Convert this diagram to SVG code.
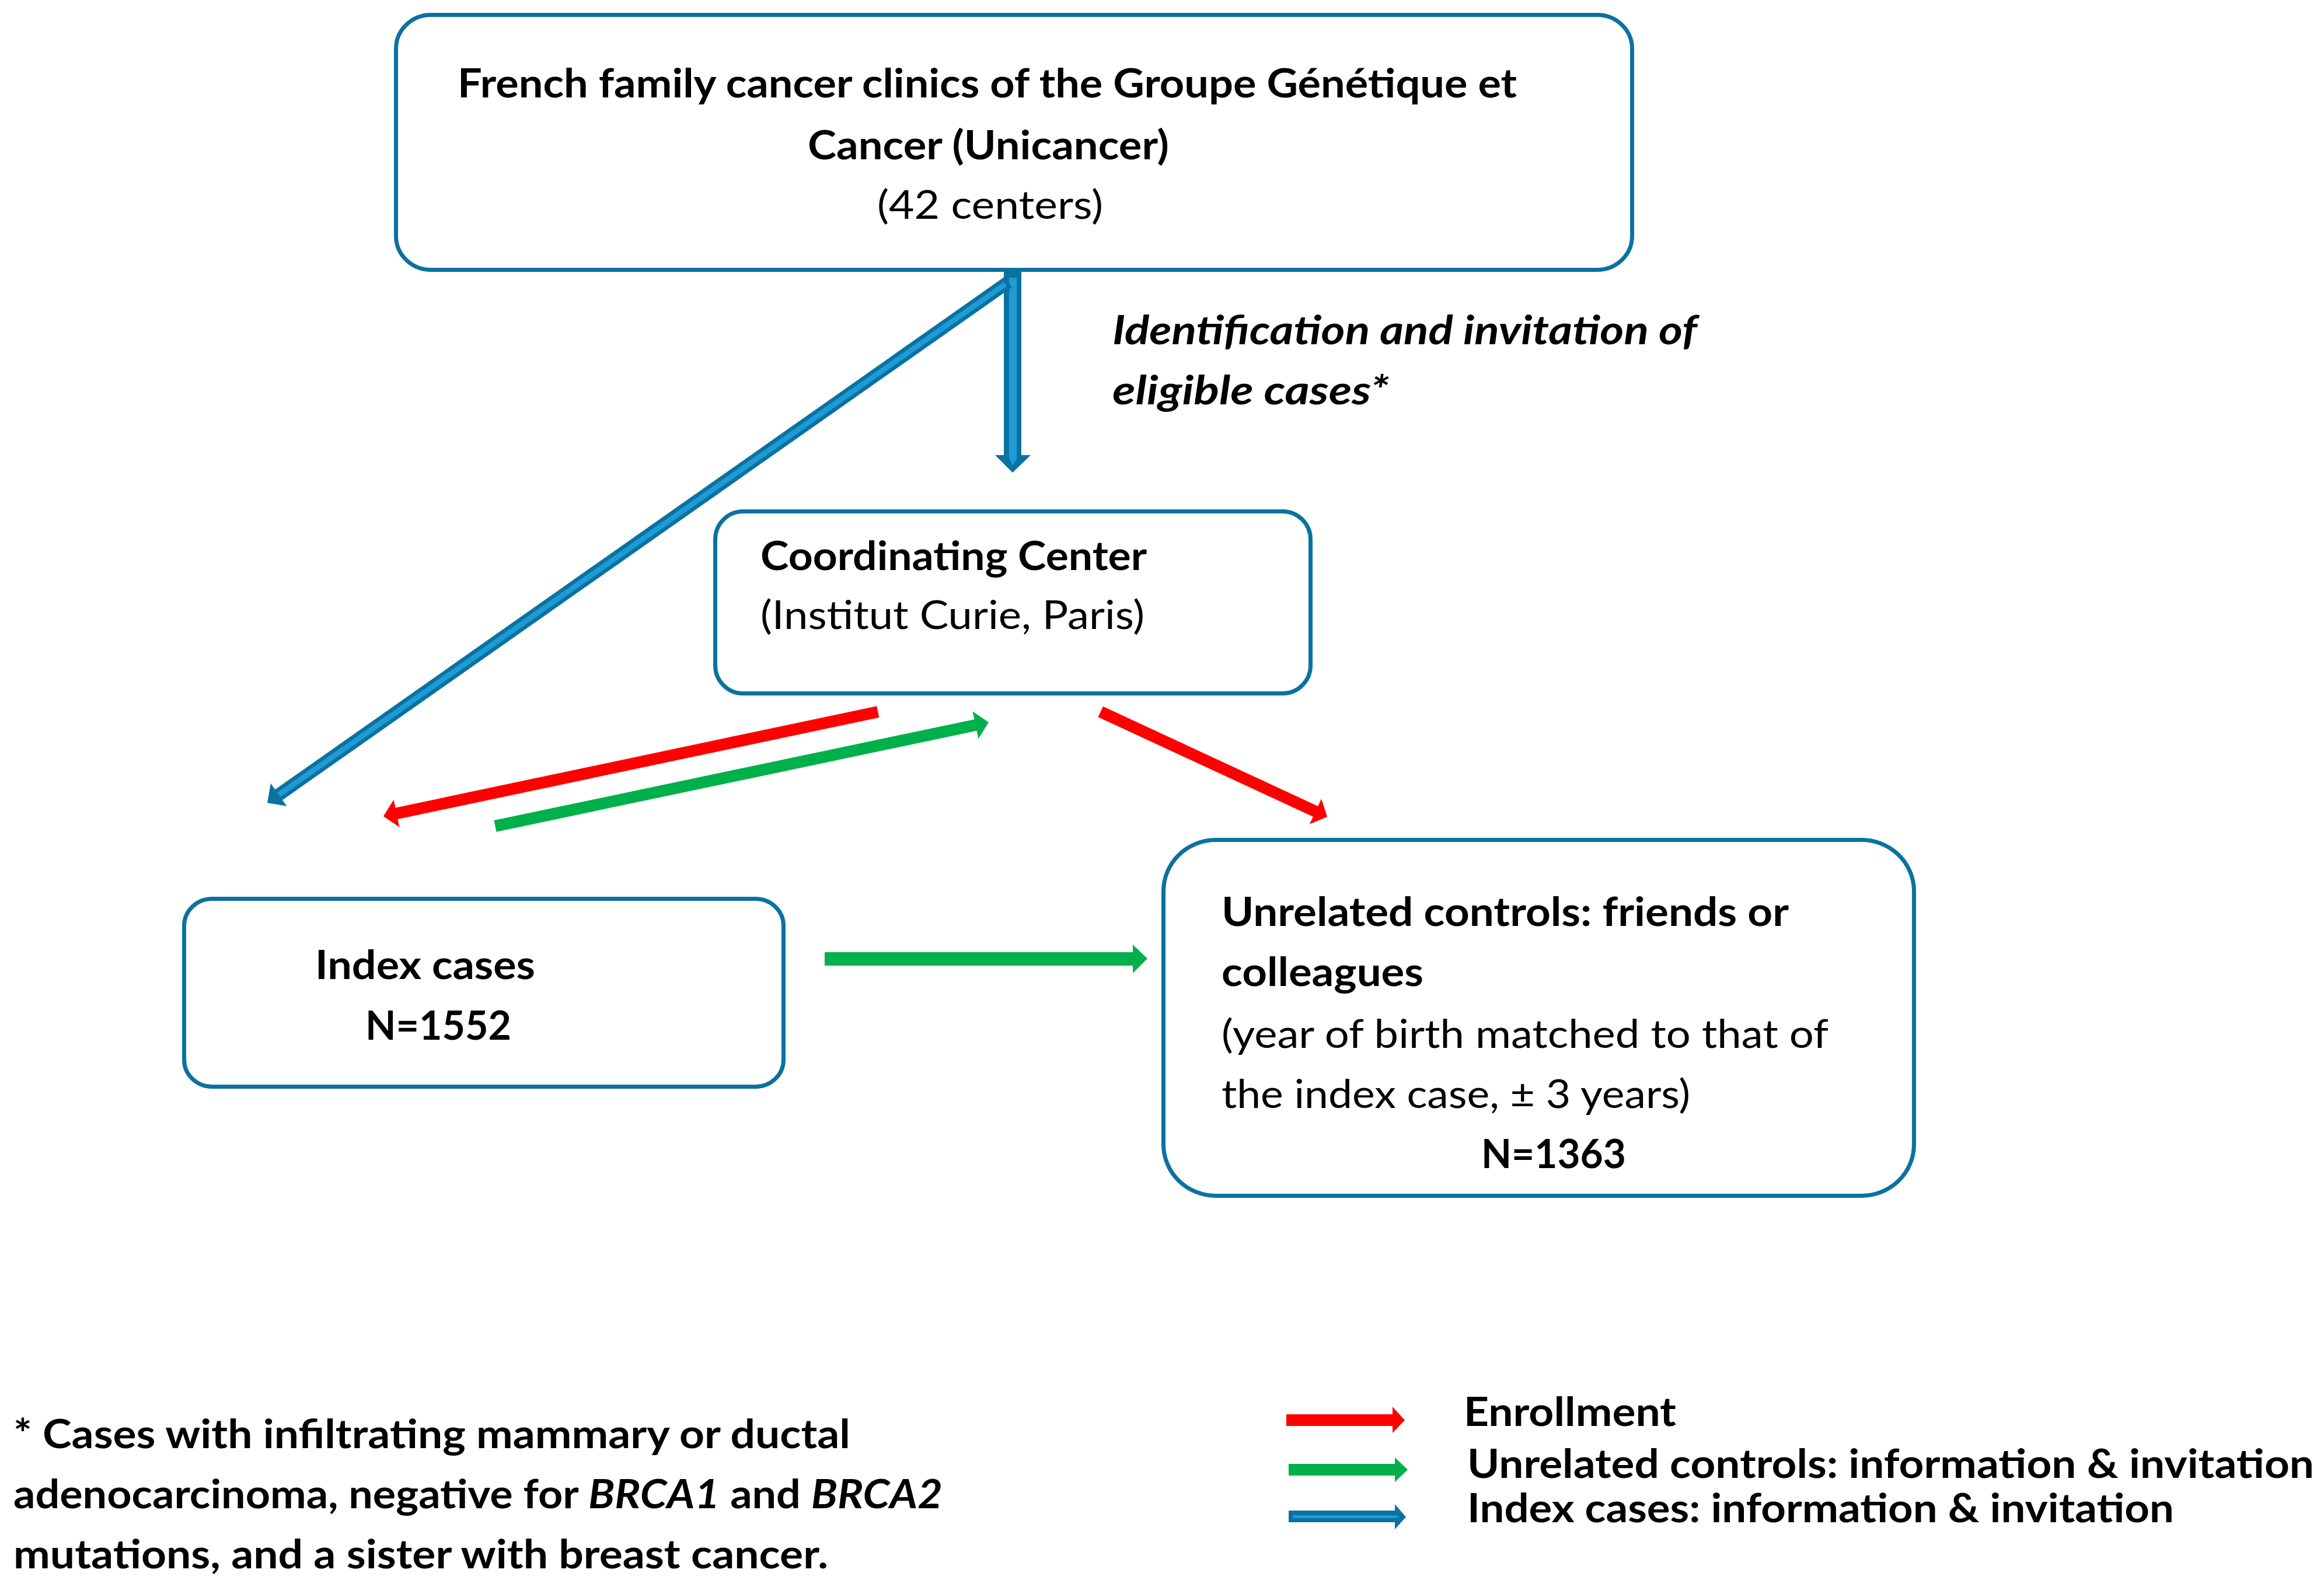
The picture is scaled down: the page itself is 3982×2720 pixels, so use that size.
<svg xmlns="http://www.w3.org/2000/svg" width="3982" height="2720" viewBox="0 0 3982 2720">
<style>
.t{font-family:Lato,'Open Sans','Liberation Sans',sans-serif;font-size:68px;fill:#000}
.b{font-weight:700}
.r{font-weight:400}
.i{font-style:italic}
.box{fill:#fff;stroke:#0B72A0;stroke-width:7}
.red{fill:#FF0000}
.green{fill:#00B04A}
.dk{fill:#0B72A0}
.lt{fill:#1E9BD7}
</style>
<rect width="3982" height="2720" fill="#fff"/>
<g id="connectors">
  <g id="blue-vertical">
    <polygon class="dk" points="1720,466 1750,466 1750,780 1766,780 1735,810 1705,780 1720,780"/>
    <polygon class="lt" points="1729,476 1742,476 1742,786 1735.5,798 1729,786"/>
  </g>
  <g id="blue-diagonal" transform="translate(458,1376) rotate(144.89)">
    <polygon class="dk" points="-1552,-11 -24,-11 -24,-24 0,0 -24,24 -24,11 -1552,11"/>
    <rect class="lt" x="-1546" y="-4.5" width="1522" height="9"/>
  </g>
  <g id="red-enroll-index" transform="translate(657,1399) rotate(168.07)">
    <polygon class="red" points="-866,-10 -23,-10 -23,-24 0,0 -23,24 -23,10 -866,10"/>
  </g>
  <g id="green-index-coord" transform="translate(1694,1238) rotate(-11.88)">
    <polygon class="green" points="-864,-10 -23,-10 -23,-24 0,0 -23,24 -23,10 -864,10"/>
  </g>
  <g id="red-enroll-controls" transform="translate(2274,1400) rotate(24.89)">
    <polygon class="red" points="-428,-10 -22,-10 -22,-24 0,0 -22,24 -22,10 -428,10"/>
  </g>
  <polygon id="green-index-controls" class="green" points="1413,1632 1941,1632 1941,1619 1966,1643 1941,1668 1941,1655 1413,1655"/>
</g>
<g id="node-clinics">
  <rect class="box" x="678.5" y="25.5" width="2118" height="437" rx="60" ry="58"/>
  <text class="t b" x="784" y="167" textLength="1815" lengthAdjust="spacingAndGlyphs">French family cancer clinics of the Groupe Génétique et</text>
  <text class="t b" x="1384" y="273" textLength="619" lengthAdjust="spacingAndGlyphs">Cancer (Unicancer)</text>
  <text class="t r" x="1503" y="375" textLength="387" lengthAdjust="spacingAndGlyphs">(42 centers)</text>
</g>
<g id="label-identification">
  <text class="t b i" x="1906" y="590" textLength="1002" lengthAdjust="spacingAndGlyphs">Identification and invitation of</text>
  <text class="t b i" x="1906" y="693" textLength="474" lengthAdjust="spacingAndGlyphs">eligible cases*</text>
</g>
<g id="node-coordinating">
  <rect class="box" x="1225.5" y="876.5" width="1020" height="312" rx="48" ry="48"/>
  <text class="t b" x="1303" y="977" textLength="662" lengthAdjust="spacingAndGlyphs">Coordinating Center</text>
  <text class="t r" x="1303" y="1078" textLength="658" lengthAdjust="spacingAndGlyphs">(Institut Curie, Paris)</text>
</g>
<g id="node-index">
  <rect class="box" x="315.5" y="1540.5" width="1027" height="322" rx="48" ry="46"/>
  <text class="t b" x="540" y="1678" textLength="377" lengthAdjust="spacingAndGlyphs">Index cases</text>
  <text class="t b" x="626" y="1782" textLength="250" lengthAdjust="spacingAndGlyphs">N=1552</text>
</g>
<g id="node-controls">
  <rect class="box" x="1993.5" y="1439.5" width="1286" height="610" rx="90" ry="88"/>
  <text class="t b" x="2093" y="1587" textLength="972" lengthAdjust="spacingAndGlyphs">Unrelated controls: friends or</text>
  <text class="t b" x="2093" y="1690" textLength="346" lengthAdjust="spacingAndGlyphs">colleagues</text>
  <text class="t r" x="2093" y="1796" textLength="1040" lengthAdjust="spacingAndGlyphs">(year of birth matched to that of</text>
  <text class="t r" x="2093" y="1899" textLength="803" lengthAdjust="spacingAndGlyphs">the index case, ± 3 years)</text>
  <text class="t b" x="2538" y="2002" textLength="248" lengthAdjust="spacingAndGlyphs">N=1363</text>
</g>
<g id="footnote">
  <text class="t b" x="23" y="2482" textLength="1434" lengthAdjust="spacingAndGlyphs">* Cases with infiltrating mammary or ductal</text>
  <text class="t b" x="23" y="2585" textLength="1592" lengthAdjust="spacingAndGlyphs">adenocarcinoma, negative for <tspan class="i">BRCA1</tspan> and <tspan class="i">BRCA2</tspan></text>
  <text class="t b" x="23" y="2688" textLength="1396" lengthAdjust="spacingAndGlyphs">mutations, and a sister with breast cancer.</text>
</g>
<g id="legend">
  <polygon class="red" points="2204,2424 2386,2424 2386,2411 2407,2434 2386,2456 2386,2444 2204,2444"/>
  <polygon class="green" points="2208,2509 2390,2509 2390,2498 2412,2519 2390,2540 2390,2529 2208,2529"/>
  <polygon class="dk" points="2208,2589 2390,2589 2390,2578 2409,2600 2390,2621 2390,2609 2208,2609"/>
  <polygon class="lt" points="2215,2597 2392,2597 2398,2599.5 2392,2602 2215,2602"/>
  <text class="t b" x="2508" y="2444" textLength="364" lengthAdjust="spacingAndGlyphs">Enrollment</text>
  <text class="t b" x="2514" y="2533" textLength="1451" lengthAdjust="spacingAndGlyphs">Unrelated controls: information &amp; invitation</text>
  <text class="t b" x="2514" y="2609" textLength="1211" lengthAdjust="spacingAndGlyphs">Index cases: information &amp; invitation</text>
</g>
</svg>
